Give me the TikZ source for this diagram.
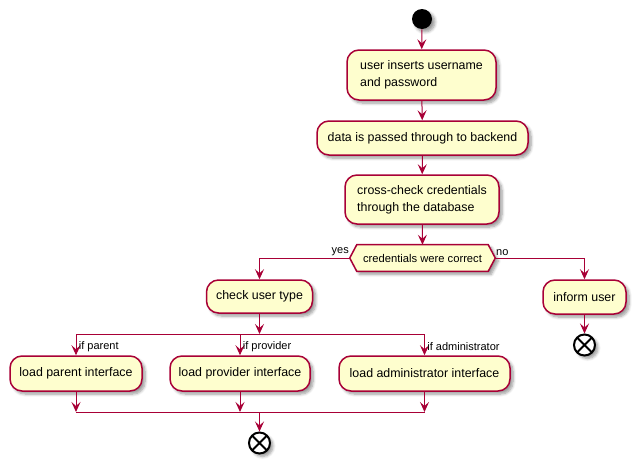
\documentclass[tikz,border=0pt]{standalone}
\usepackage{fontspec}
\setmainfont{Liberation Sans}
\usetikzlibrary{arrows.meta,shadows.blur}
\definecolor{umlborder}{HTML}{A80036}
\definecolor{umlfill}{HTML}{FEFECE}
\newdimen\pxu \pxu=0.75pt
\tikzset{
  softshadow/.style={blur shadow={shadow xshift=3\pxu, shadow yshift=-3\pxu, shadow blur steps=6, shadow opacity=40}},
  act/.style={draw=umlborder, fill=umlfill, line width=1.5\pxu, rounded corners=12\pxu,
    font=\fontsize{9.3}{12.5}\selectfont, align=left, inner sep=0pt, softshadow},
  flow/.style={draw=umlborder, line width=1\pxu, -{Stealth[length=7.5pt,width=6.75pt,inset=3pt]}},
  link/.style={draw=umlborder, line width=1\pxu},
  guard/.style={font=\fontsize{8.25}{10}\selectfont, inner sep=0.5pt},
  startdot/.style={circle, fill=black, minimum size=20\pxu, inner sep=0pt, softshadow},
  stopdot/.style={circle, draw=black, fill=white, line width=2\pxu, minimum size=21\pxu, inner sep=0pt, softshadow,
    path picture={\draw[line width=2\pxu] (path picture bounding box.south west) -- (path picture bounding box.north east)
      (path picture bounding box.north west) -- (path picture bounding box.south east);}},
  hexagon/.style={draw=umlborder, fill=umlfill, line width=1.5\pxu, softshadow}
}
\begin{document}
\begin{tikzpicture}[x=1\pxu, y=-1\pxu]
\useasboundingbox (0,0) rectangle (636,461);

% main column
\node[startdot] (start) at (422,19) {};
\node[act, minimum width=149\pxu, minimum height=50\pxu] (insert) at (421.5,75) {user inserts username\\and password};
\node[act, minimum width=211\pxu, minimum height=34\pxu] (pass) at (422.5,138) {data is passed through to backend};
\node[act, minimum width=154\pxu, minimum height=49\pxu] (cross) at (422,199.5) {cross-check credentials\\through the database};

% decision
\node[minimum width=145\pxu, minimum height=26\pxu, inner sep=0pt] (dec) at (422.5,258) {};
\path[hexagon] (dec.west) -- ([xshift=7\pxu]dec.north west) -- ([xshift=-7\pxu]dec.north east)
  -- (dec.east) -- ([xshift=-7\pxu]dec.south east) -- ([xshift=7\pxu]dec.south west) -- cycle;
\node[font=\fontsize{8.4}{10}\selectfont, inner sep=0pt] at (dec.center) {credentials were correct};

% branches
\node[act, minimum width=106\pxu, minimum height=33\pxu] (check) at (259.5,296.5) {check user type};
\node[act, minimum width=83\pxu, minimum height=34\pxu] (inform) at (584.5,297) {inform user};
\node[stopdot] (stopR) at (584.5,345) {};

\node[act, minimum width=132\pxu, minimum height=35\pxu] (parent) at (76,373.5) {load parent interface};
\node[act, minimum width=140\pxu, minimum height=35\pxu] (provider) at (240,373.5) {load provider interface};
\node[act, minimum width=171\pxu, minimum height=35\pxu] (admin) at (424.5,373.5) {load administrator interface};
\node[stopdot] (stopB) at (259.5,443) {};

\coordinate (fork) at (259.5,334);
\coordinate (join) at (259.5,412);

% connectors
\draw[flow] (start) -- (insert);
\draw[flow] (insert) -- (pass);
\draw[flow] (pass) -- (cross);
\draw[flow] (cross) -- (dec.north);
\draw[flow] (dec.west) -| (check.north);
\draw[flow] (dec.east) -| (inform.north);
\node[guard, anchor=south east] at ([yshift=1\pxu]dec.west) {yes};
\node[guard, anchor=south west] at ([yshift=1\pxu]dec.east) {no};
\draw[flow] (inform) -- (stopR);

\draw[flow] (check) -- (fork);
\draw[link] (parent.north |- fork) -- (admin.north |- fork);
\draw[flow] (parent.north |- fork) -- (parent.north);
\draw[flow] (provider.north |- fork) -- (provider.north);
\draw[flow] (admin.north |- fork) -- (admin.north);
\node[guard, anchor=west] at ([xshift=2\pxu, yshift=9\pxu]parent.north) {if parent};
\node[guard, anchor=west] at ([xshift=2\pxu, yshift=9\pxu]provider.north) {if provider};
\node[guard, anchor=west] at ([xshift=2\pxu, yshift=9\pxu]admin.north) {if administrator};

\draw[flow] (parent) -- (parent.south |- join);
\draw[flow] (provider) -- (provider.south |- join);
\draw[flow] (admin) -- (admin.south |- join);
\draw[link] (parent.south |- join) -- (admin.south |- join);
\draw[flow] (join) -- (stopB);
\end{tikzpicture}
\end{document}
